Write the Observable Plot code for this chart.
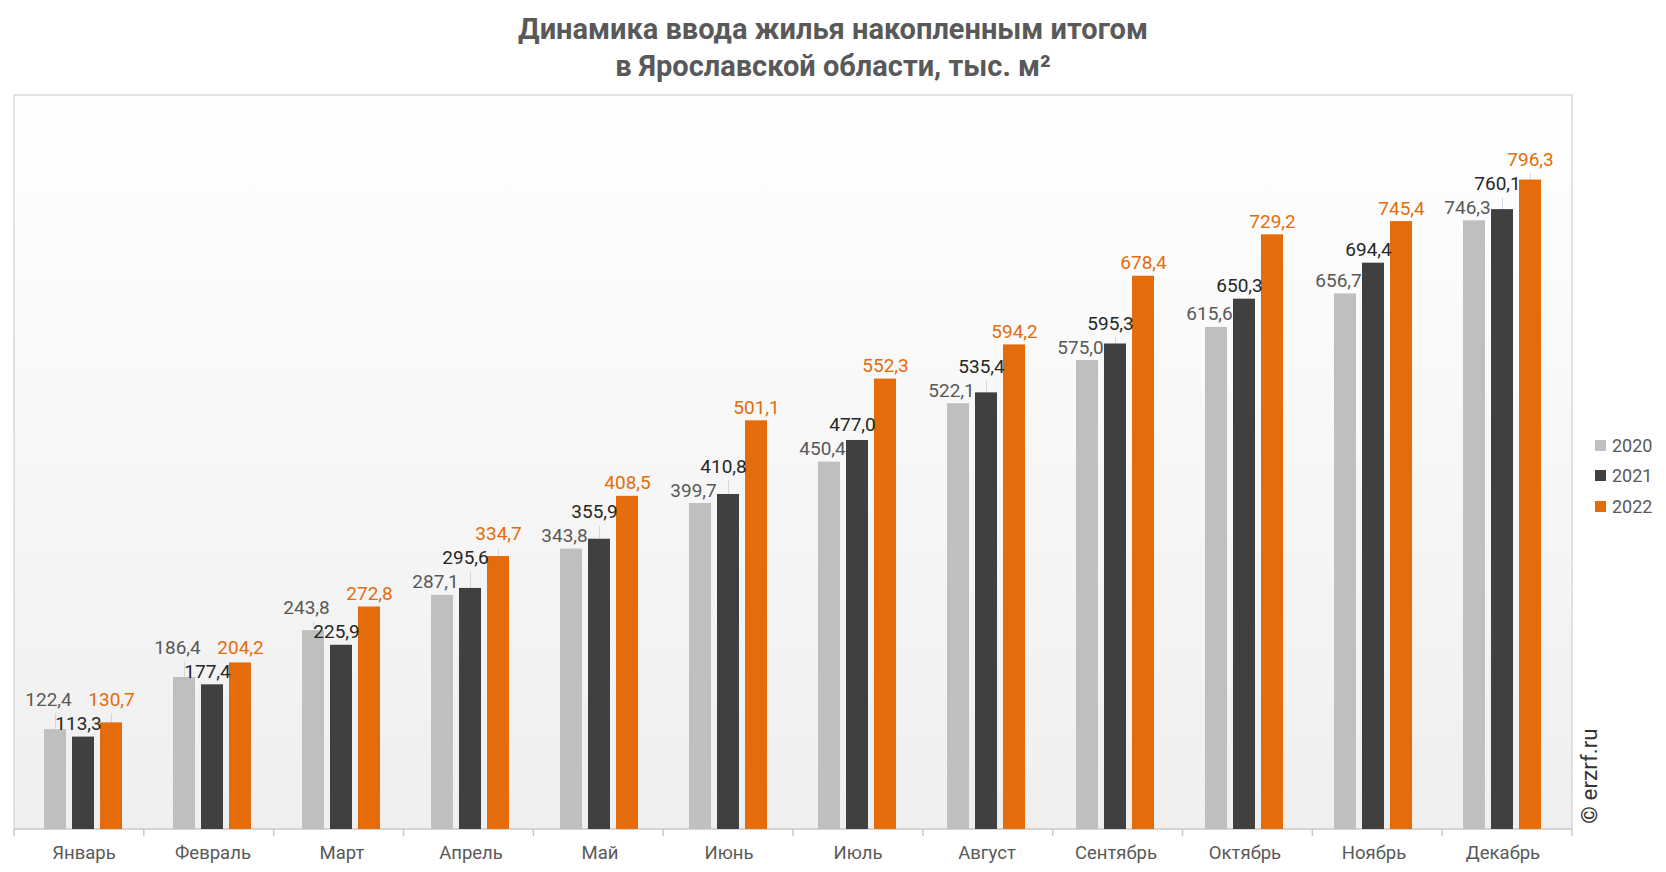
<!DOCTYPE html>
<html><head><meta charset="utf-8">
<script src="https://cdn.jsdelivr.net/npm/d3@7"></script>
<script src="https://cdn.jsdelivr.net/npm/@observablehq/plot@0.6"></script>
<style>
body{margin:0;background:#fff;font-family:Roboto,sans-serif;}
#wrap{position:relative;width:1666px;height:872px;overflow:hidden}
#title{height:88px;box-sizing:border-box;padding-top:11px;text-align:center;font-weight:bold;font-size:29px;line-height:37px;color:#595959}
#legend{position:absolute;left:1595px;top:430px;font-size:18px;color:#595959}
#legend .row{height:30.5px;display:flex;align-items:center}
#legend .sw{width:11px;height:11px;margin-right:6px}
#wm{position:absolute;left:1589px;top:776px;transform:translate(-50%,-50%) rotate(-90deg);font-size:22.5px;color:#333;white-space:nowrap}
</style></head>
<body><div id="wrap">
<div id="title">Динамика ввода жилья накопленным итогом<br>в Ярославской области, тыс. м²</div>
<div id="chart"></div>
<div id="legend"></div>
<div id="wm">© erzrf.ru</div>
</div>
<script>
const months = ["Январь","Февраль","Март","Апрель","Май","Июнь","Июль","Август","Сентябрь","Октябрь","Ноябрь","Декабрь"];
const years = ["2020","2021","2022"];
const v2020 = [122.4,186.4,243.8,287.1,343.8,399.7,450.4,522.1,575.0,615.6,656.7,746.3];
const v2021 = [113.3,177.4,225.9,295.6,355.9,410.8,477.0,535.4,595.3,650.3,694.4,760.1];
const v2022 = [130.7,204.2,272.8,334.7,408.5,501.1,552.3,594.2,678.4,729.2,745.4,796.3];
const colors = ["#bfbfbf","#404040","#e46c0a"];
const labelColors = ["#595959","#262626","#e46c0a"];
const yDomain = [0, 900];

const series = [v2020, v2021, v2022];
const rows = [];
years.forEach((yr, j) => months.forEach((m, i) => rows.push({month: m, year: yr, value: series[j][i], j})));
const fmt = d => d3.format(".1f")(d).replace(".", ",");

const W = 1666, H = 784, mT = 7, mB = 43, mL = 14, mR = 94;
const k = (H - mT - mB) / yDomain[1];   // px per unit of the y scale
const gap = 7, lh = 24;                  // label gap and label line step, px

// simple collision avoidance between neighbouring labels of one month
months.forEach((m, i) => {
  const b = series.map(s => s[i] * k + gap);
  for (let j = 1; j < 3; j++) {
    const a = j - 1;
    if (b[j] < b[a] + lh && b[a] < b[j] + lh) {
      if (series[j][i] >= series[a][i]) b[j] = b[a] + lh;
      else b[a] = b[j] + lh;
    }
  }
  rows.filter(r => r.month === m).forEach(r => { r.ly = (b[r.j] - gap) / k; });
});

const labelMark = (j, dx) => Plot.text(rows.filter(r => r.j === j), {
  fx: "month", x: "year", y: "ly", text: d => fmt(d.value),
  lineAnchor: "bottom", dx, dy: -gap, fill: labelColors[j], fontSize: 19
});

const chart = Plot.plot({
  width: W, height: H,
  marginTop: mT, marginBottom: mB, marginLeft: mL, marginRight: mR,
  style: {fontFamily: "Roboto", fontSize: "18.5px", color: "#595959", background: "transparent", overflow: "visible"},
  fx: {domain: months, padding: 0, axis: "bottom", tickSize: 0, tickPadding: 16, label: null},
  x: {domain: years, paddingInner: 0.207, paddingOuter: 0.845, axis: null},
  y: {domain: yDomain, axis: null},
  color: {domain: years, range: colors},
  marks: [
    Plot.ruleX(rows.filter(r => (r.ly - r.value) * k > 6), {
      fx: "month", x: "year", y1: "value", y2: "ly", stroke: "#d6d6d6", strokeWidth: 1, insetBottom: -1
    }),
    Plot.barY(rows, {fx: "month", x: "year", y: "value", fill: "year"}),
    labelMark(0, -7),
    labelMark(1, -5),
    labelMark(2, 0)
  ]
});
document.getElementById("chart").appendChild(chart);

// background panel, frame, baseline and category boundary ticks
const svg = d3.select(chart);
const defs = svg.insert("defs", ":first-child");
const g = defs.append("linearGradient").attr("id", "bg").attr("x1", 0).attr("y1", 0).attr("x2", 0).attr("y2", 1);
g.append("stop").attr("offset", "0%").attr("stop-color", "#ffffff");
g.append("stop").attr("offset", "100%").attr("stop-color", "#efefef");
const fxs = chart.scale("fx");
const band = d3.scaleBand().domain(fxs.domain).range(fxs.range).padding(0);
const x0 = fxs.range[0], x1 = fxs.range[1], yb = H - mB;
const deco = svg.insert("g", "defs + *");
deco.append("rect").attr("x", x0).attr("y", mT).attr("width", x1 - x0).attr("height", yb - mT)
  .attr("fill", "url(#bg)").attr("stroke", "#d9d9d9").attr("stroke-width", 1.5);
deco.append("line").attr("x1", x0).attr("x2", x1).attr("y1", yb).attr("y2", yb).attr("stroke", "#d0d0d0").attr("stroke-width", 1.5);
const bounds = fxs.domain.map(m => band(m)).concat([x1]);
deco.selectAll("line.t").data(bounds).join("line").attr("class", "t")
  .attr("x1", d => d).attr("x2", d => d).attr("y1", yb).attr("y2", yb + 7).attr("stroke", "#c8c8c8").attr("stroke-width", 1.5);

// legend
const lg = document.getElementById("legend");
years.forEach((yr, j) => {
  const r = document.createElement("div"); r.className = "row";
  r.innerHTML = `<span class="sw" style="background:${colors[j]}"></span><span>${yr}</span>`;
  lg.appendChild(r);
});
</script>
</body></html>
